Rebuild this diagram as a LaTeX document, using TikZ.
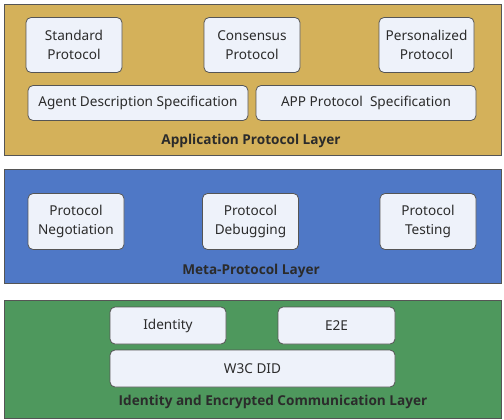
\documentclass[tikz,border=0pt]{standalone}
\usepackage{fontspec}
\setmainfont{Noto Sans}
\newfontfamily\layerfont{Open Sans}
\usetikzlibrary{positioning}

\definecolor{appgold}{HTML}{D4B15A}
\definecolor{metablue}{HTML}{4F78C6}
\definecolor{idgreen}{HTML}{4E985D}
\definecolor{boxfill}{HTML}{EEF2FA}
\definecolor{edgegray}{HTML}{555555}
\definecolor{labeltext}{HTML}{2B2B2B}

\begin{document}
\begin{tikzpicture}[
  x=1pt,y=-1pt,
  layerbox/.style={draw=edgegray,line width=1pt,anchor=north west,inner sep=0pt},
  protobox/.style={draw=edgegray,line width=0.8pt,fill=boxfill,rounded corners=5pt,
    inner sep=2pt,align=center,font=\fontsize{13.6}{19.5}\selectfont,text=labeltext},
  layerlabel/.style={font=\layerfont\fontsize{13.6}{16}\selectfont\bfseries,text=labeltext},
]
\useasboundingbox (0,0) rectangle (504,420);

% Layer backgrounds
\node[layerbox,fill=appgold,minimum width=497pt,minimum height=151pt] (applayer) at (4,4) {};
\node[layerbox,fill=metablue,minimum width=497pt,minimum height=114pt] (metalayer) at (4,169) {};
\node[layerbox,fill=idgreen,minimum width=497pt,minimum height=118pt] (idlayer) at (4,300) {};

% Application protocol layer
\node[protobox,minimum width=96pt,minimum height=55pt] (standard) at (74,45) {Standard\\Protocol};
\node[protobox,minimum width=96pt,minimum height=55pt] (consensus) at (252,45) {Consensus\\Protocol};
\node[protobox,minimum width=95pt,minimum height=55pt] (personal) at (426.5,45) {Personalized\\Protocol};
\node[protobox,minimum width=220pt,minimum height=35pt] (agentdesc) at (138,103) {Agent Description Specification};
\node[protobox,minimum width=220pt,minimum height=35pt] (appspec) at (366,103) {APP Protocol\ \ Specification};
\node[layerlabel] (applabel) at (251,141) {Application Protocol Layer};

% Meta-protocol layer
\node[protobox,minimum width=96pt,minimum height=56pt] (negotiation) at (76,221.5) {Protocol\\Negotiation};
\node[protobox,minimum width=96pt,minimum height=56pt] (debugging) at (250.5,221.5) {Protocol\\Debugging};
\node[protobox,minimum width=96pt,minimum height=56pt] (testing) at (428,221.5) {Protocol\\Testing};
\node[layerlabel] (metalabel) at (251,271) {Meta-Protocol Layer};

% Identity and encrypted communication layer
\node[protobox,minimum width=116pt,minimum height=37pt] (identity) at (168,325.5) {Identity};
\node[protobox,minimum width=117pt,minimum height=37pt] (etoe) at (336.5,325.5) {E2E};
\node[protobox,minimum width=285pt,minimum height=37pt] (wdid) at (252.5,368.5) {W3C DID};
\node[layerlabel] (idlabel) at (273,402) {Identity and Encrypted Communication Layer};

\end{tikzpicture}
\end{document}
